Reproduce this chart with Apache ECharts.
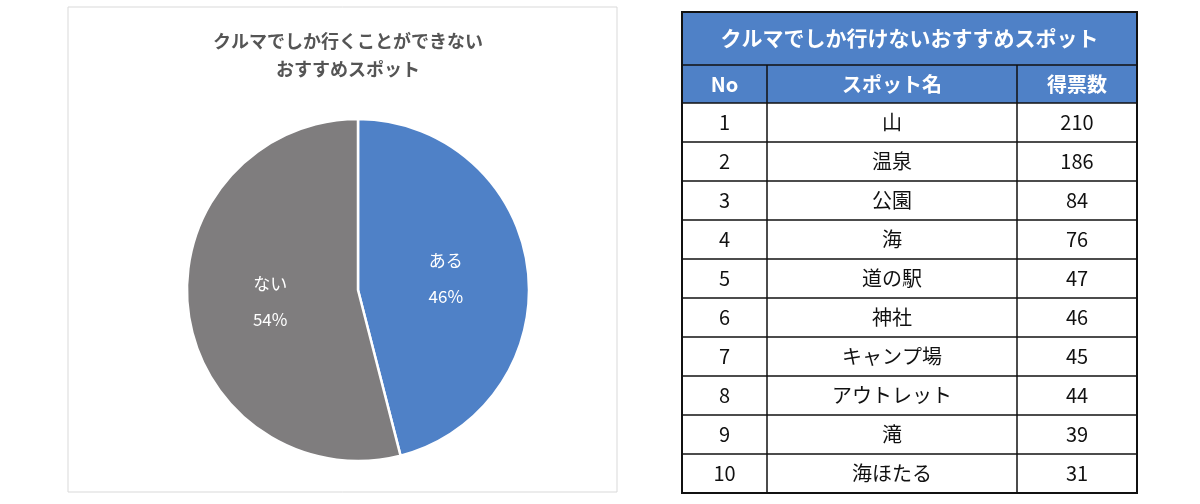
<!DOCTYPE html>
<html>
<head>
<meta charset="utf-8">
<script src="https://cdn.jsdelivr.net/npm/echarts@6/dist/echarts.min.js"></script>
<style>
  html, body { margin: 0; padding: 0; background: #fff; }
  #main { width: 1200px; height: 504px; }
</style>
</head>
<body>
<div id="main"></div>
<script>
var pieNames = ['ある', 'ない'];
var pieValues = [46, 54];
var pieColors = ['#4f81c7', '#7f7d7e'];

var tableTitle = 'クルマでしか行けないおすすめスポット';
var tableHeaders = ['No', 'スポット名', '得票数'];
var spotNo = [1, 2, 3, 4, 5, 6, 7, 8, 9, 10];
var spotNames = ['山', '温泉', '公園', '海', '道の駅', '神社', 'キャンプ場', 'アウトレット', '滝', '海ほたる'];
var spotVotes = [210, 186, 84, 76, 47, 46, 45, 44, 39, 31];

var font = '"Noto Sans CJK JP", "Noto Sans", sans-serif';
var myChart = echarts.init(document.getElementById('main'));

// 表をgraphicで組み立てる
var tx = 682, ty = 12, colW = [85, 250, 120], titleH = 53, headH = 38, rowH = 39;
var tw = colW[0] + colW[1] + colW[2];
var g = [];
g.push({ type: 'rect', shape: { x: 68, y: 7, width: 549, height: 485 },
  style: { fill: '#fff', stroke: '#d9d9d9', lineWidth: 1 } });
g.push({ type: 'rect', shape: { x: tx, y: ty, width: tw, height: titleH + headH },
  style: { fill: '#4f81c7' } });
g.push({ type: 'text', x: tx + tw / 2, y: ty + titleH / 2,
  style: { text: tableTitle, fill: '#fff', font: 'bold 21px ' + font, align: 'center', verticalAlign: 'middle' } });
var cx = tx;
for (var c = 0; c < 3; c++) {
  g.push({ type: 'text', x: cx + colW[c] / 2, y: ty + titleH + headH / 2,
    style: { text: tableHeaders[c], fill: '#fff', font: 'bold 20px ' + font, align: 'center', verticalAlign: 'middle' } });
  cx += colW[c];
}
for (var i = 0; i < spotNo.length; i++) {
  var ry = ty + titleH + headH + i * rowH;
  var vals = [spotNo[i], spotNames[i], spotVotes[i]];
  cx = tx;
  for (var c = 0; c < 3; c++) {
    g.push({ type: 'text', x: cx + colW[c] / 2, y: ry + rowH / 2,
      style: { text: String(vals[c]), fill: '#111', font: '20px ' + font, align: 'center', verticalAlign: 'middle' } });
    cx += colW[c];
  }
}
// 罫線
var bottom = ty + titleH + headH + spotNo.length * rowH;
var lineStyle = { stroke: '#111', lineWidth: 1.5 };
g.push({ type: 'rect', shape: { x: tx, y: ty, width: tw, height: bottom - ty }, style: { fill: 'none', stroke: '#111', lineWidth: 2 } });
g.push({ type: 'line', shape: { x1: tx, y1: ty + titleH, x2: tx + tw, y2: ty + titleH }, style: lineStyle });
for (var i = 0; i < spotNo.length; i++) {
  var ly = ty + titleH + headH + i * rowH;
  g.push({ type: 'line', shape: { x1: tx, y1: ly, x2: tx + tw, y2: ly }, style: lineStyle });
}
g.push({ type: 'line', shape: { x1: tx + colW[0], y1: ty + titleH, x2: tx + colW[0], y2: bottom }, style: lineStyle });
g.push({ type: 'line', shape: { x1: tx + colW[0] + colW[1], y1: ty + titleH, x2: tx + colW[0] + colW[1], y2: bottom }, style: lineStyle });

var option = {
  animation: false,
  title: {
    text: 'クルマでしか行くことができない\nおすすめスポット',
    left: 343, top: 22, textAlign: 'center',
    textStyle: { fontFamily: font, fontSize: 18, fontWeight: 'bold', color: '#555', lineHeight: 28 }
  },
  graphic: g,
  series: [{
    type: 'pie',
    center: [358, 290],
    radius: [0, 171],
    startAngle: 90,
    clockwise: true,
    data: pieNames.map(function (n, i) {
      return { name: n, value: pieValues[i], itemStyle: { color: pieColors[i] } };
    }),
    itemStyle: { borderColor: '#fff', borderWidth: 2.5 },
    label: {
      position: 'inside',
      formatter: '{b}\n\n{d}%',
      color: '#fff', fontFamily: font, fontSize: 17, lineHeight: 18
    },
    labelLine: { show: false }
  }]
};
myChart.setOption(option);
</script>
</body>
</html>
